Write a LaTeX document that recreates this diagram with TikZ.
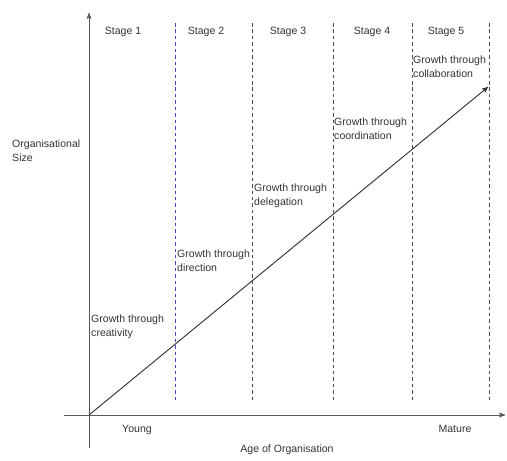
\documentclass[tikz,border=0pt]{standalone}
\usepackage{fontspec}
\setmainfont{Liberation Sans}
\usetikzlibrary{arrows}

\begin{document}
\begin{tikzpicture}[x=0.03cm, y=-0.03cm, font=\fontsize{9}{12.5}\selectfont,
  every node/.style={inner sep=0, text=black!80}]
\useasboundingbox (0,0) rectangle (507,461);
\coordinate (O) at (89,415);
\coordinate (peak) at (488,87);
% axes
\draw[black!65, thick, ->, >=stealth'] (64,415)--(505,415);
\draw[black!65, thick, ->, >=stealth'] (89,448)--(89,13);
% stage boundaries
\draw[blue!45!gray, dash pattern=on 3pt off 2.5pt] (175,23)--(175,402);
\foreach \x in {252,333,412,489} {
 \draw[black!70, dash pattern=on 3pt off 2.5pt] (\x,23)--(\x,402);
}
\foreach \x/\n in {123/1,206/2,288/3,372/4,446/5} {
 \node[anchor=base] (stage\n) at (\x,35) {Stage \n};
}
% growth line
\draw[black!80, thick, ->, >=stealth'] (O)--(peak);
\node[anchor=base west, align=left] (creativity) at (91,337) {Growth through\\creativity};
\node[anchor=base west, align=left] (direction) at (177,272) {Growth through\\direction};
\node[anchor=base west, align=left] (delegation) at (254,206) {Growth through\\delegation};
\node[anchor=base west, align=left] (coordination) at (334,140) {Growth through\\coordination};
\node[anchor=base west, align=left] (collaboration) at (413,78) {Growth through\\collaboration};
% axis labels
\node[anchor=base west, align=left] (size) at (12,162) {Organisational\\Size};
\node[anchor=base] (young) at (137,432) {Young};
\node[anchor=base] (mature) at (455,432) {Mature};
\node[anchor=base] (age) at (287,452) {Age of Organisation};
\end{tikzpicture}
\end{document}
